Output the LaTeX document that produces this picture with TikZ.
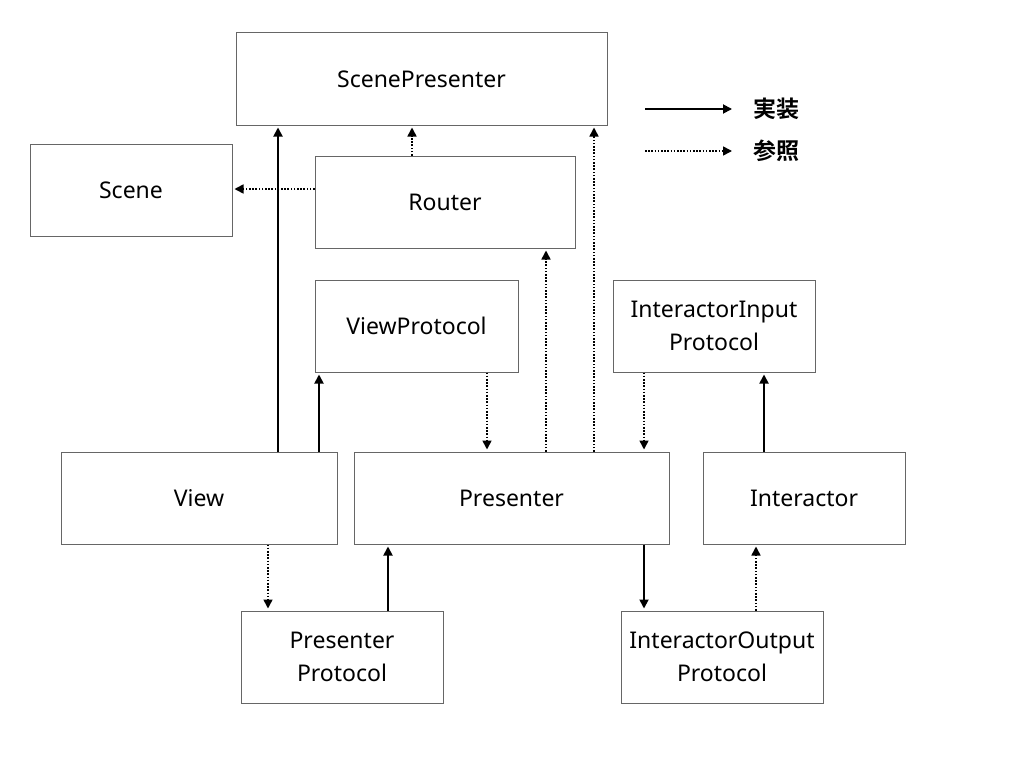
\documentclass[tikz,border=0pt]{standalone}
\usepackage{fontspec}
\setmainfont{Noto Sans}
\newfontfamily\boldjp{Noto Sans CJK JP Bold}
\usetikzlibrary{arrows.meta}

\tikzset{
  box/.style={draw=black!60, line width=1pt, rectangle, inner sep=0pt,
    minimum width=202pt, minimum height=92pt, align=center,
    font=\fontsize{23}{33}\selectfont},
  impl/.style={line width=1.8pt, -{Triangle[length=9pt,width=9pt]}, shorten >=2pt},
  refer/.style={line width=1.6pt, dash pattern=on 1.6pt off 1.6pt,
    -{Triangle[length=9pt,width=9pt]}, shorten >=2pt},
}

\begin{document}
\begin{tikzpicture}[x=1pt,y=-1pt]
		\useasboundingbox (0,0) rectangle (1024,768);
		% boxes
		\node[box, minimum width=371pt] (scenepresenter) at (421.5,79) {ScenePresenter};
		\node[box] (scene) at (131,190) {Scene};
		\node[box, minimum width=260pt] (router) at (445,202) {Router};
		\node[box, minimum width=203pt] (viewprotocol) at (416.5,326) {ViewProtocol};
		\node[box] (inputprotocol) at (714,326) {InteractorInput\\Protocol};
		\node[box, minimum width=276pt] (view) at (199,498) {View};
		\node[box, minimum width=315pt] (presenter) at (511.5,498) {Presenter};
		\node[box] (interactor) at (804,498) {Interactor};
		\node[box] (presenterprotocol) at (342,657) {Presenter\\Protocol};
		\node[box] (outputprotocol) at (722,657) {InteractorOutput\\Protocol};

		% legend
		\coordinate (implstart) at (645,109);
		\coordinate (implend) at (734,109);
		\coordinate (referstart) at (645,151);
		\coordinate (referend) at (734,151);
		\node[font=\boldjp\fontsize{23}{26}\selectfont] (impllabel) at (776,109) {実装};
		\node[font=\boldjp\fontsize{23}{26}\selectfont] (referlabel) at (776,151) {参照};
		\draw[impl] (implstart) -- (implend);
		\draw[refer] (referstart) -- (referend);

		% connectors
		\draw[impl] (view.north -| 278,0) -- (scenepresenter.south -| 278,0);
		\draw[impl] (view.north -| 319,0) -- (viewprotocol.south -| 319,0);
		\draw[refer] (router.north -| 412,0) -- (scenepresenter.south -| 412,0);
		\draw[refer] (router.west |- 0,189) -- (scene.east |- 0,189);
		\draw[refer] (viewprotocol.south -| 487,0) -- (presenter.north -| 487,0);
		\draw[refer] (presenter.north -| 546,0) -- (router.south -| 546,0);
		\draw[refer] (presenter.north -| 594,0) -- (scenepresenter.south -| 594,0);
		\draw[refer] (inputprotocol.south -| 644,0) -- (presenter.north -| 644,0);
		\draw[impl] (interactor.north -| 764,0) -- (inputprotocol.south -| 764,0);
		\draw[refer] (view.south -| 268,0) -- (presenterprotocol.north -| 268,0);
		\draw[impl] (presenterprotocol.north -| 388,0) -- (presenter.south -| 388,0);
		\draw[impl] (presenter.south -| 644,0) -- (outputprotocol.north -| 644,0);
		\draw[refer] (outputprotocol.north -| 756,0) -- (interactor.south -| 756,0);
\end{tikzpicture}
\end{document}
